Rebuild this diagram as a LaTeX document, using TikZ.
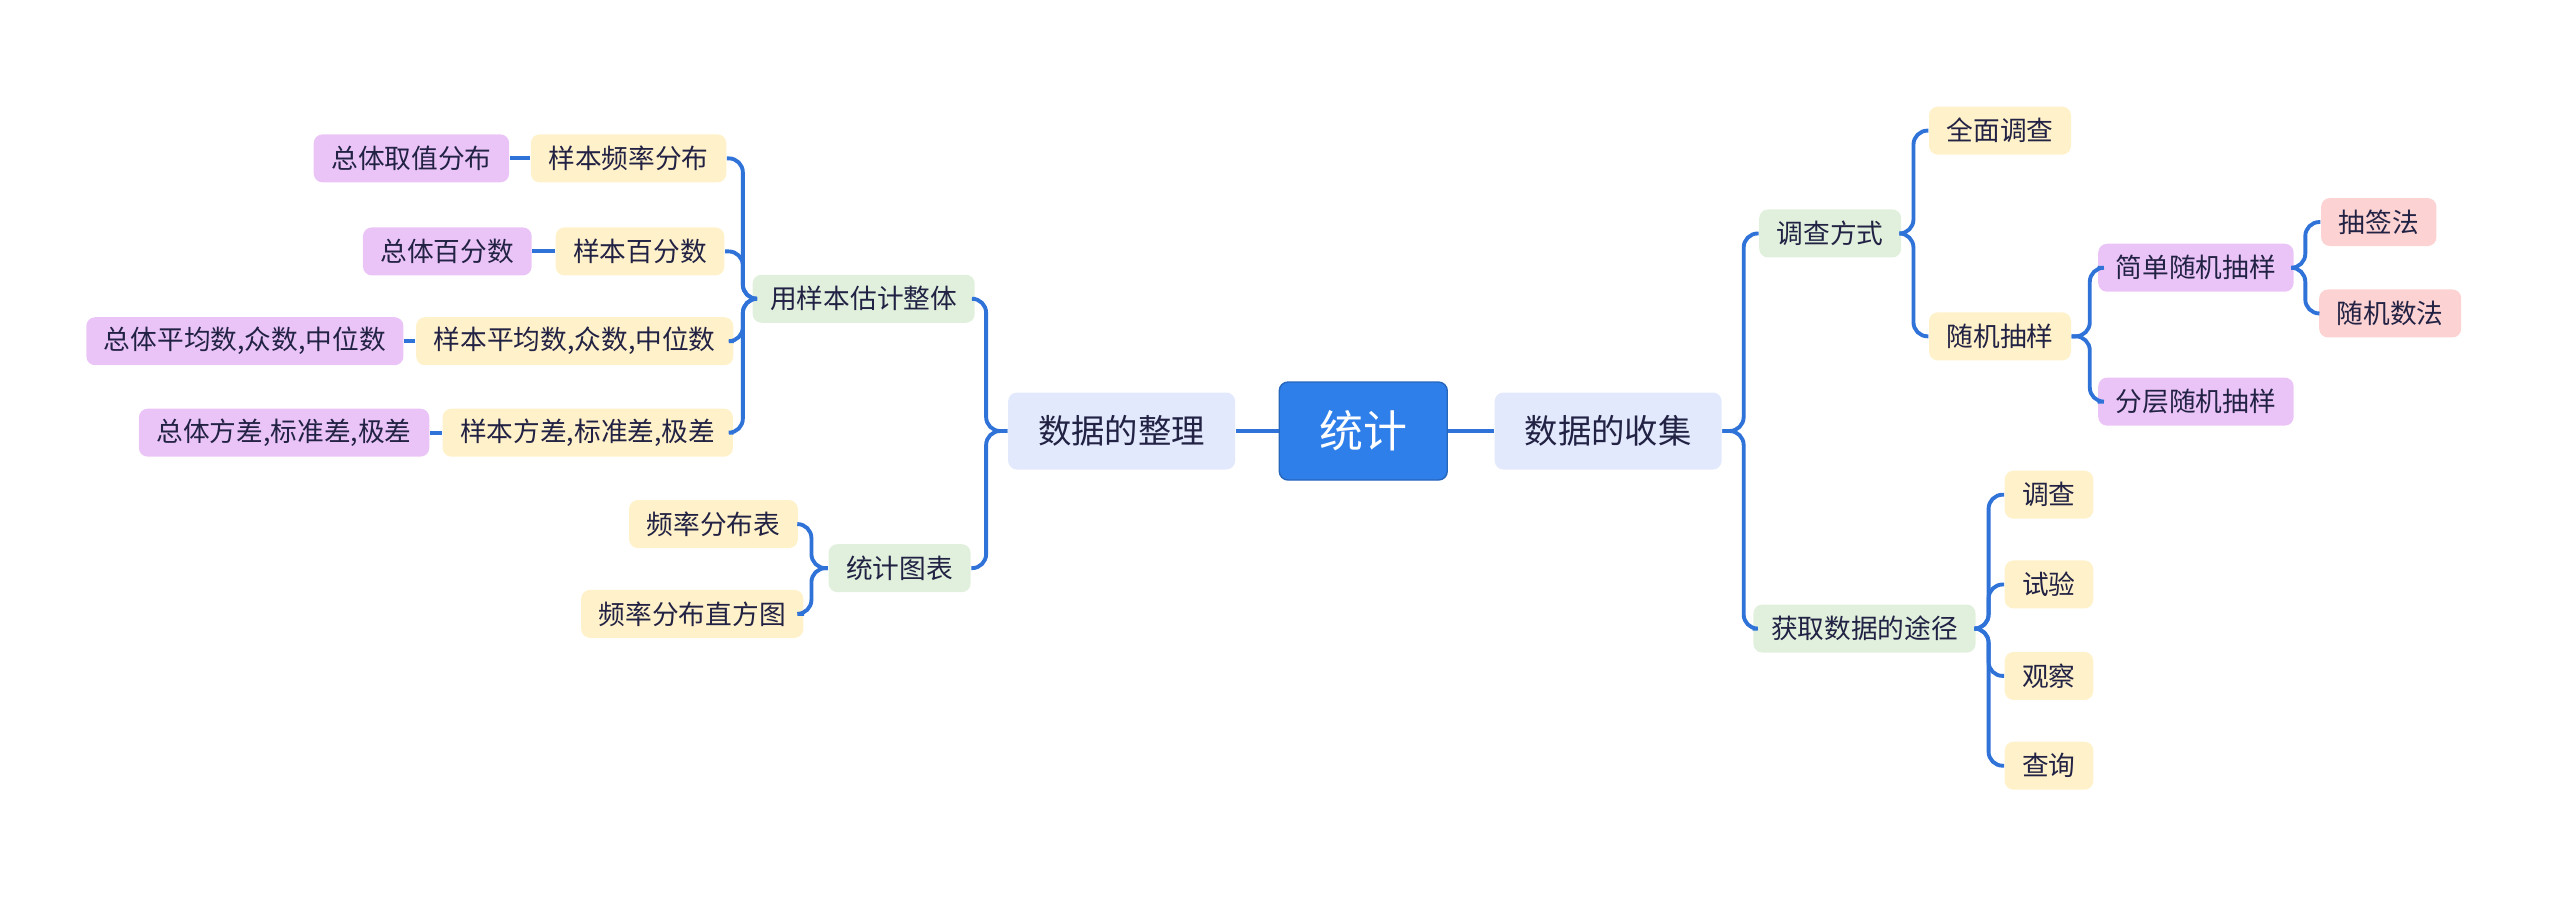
\documentclass[tikz,border=0pt]{standalone}
\usepackage{fontspec}
\setmainfont{Noto Sans CJK SC}
\usetikzlibrary{positioning}

\definecolor{rootblue}{HTML}{2F7FEA}
\definecolor{mainfill}{HTML}{E3E9FC}
\definecolor{greenfill}{HTML}{E0F0DC}
\definecolor{yellowfill}{HTML}{FFF1C9}
\definecolor{purplefill}{HTML}{EBC4F7}
\definecolor{pinkfill}{HTML}{FCD2D2}
\definecolor{linkblue}{HTML}{2F72D8}
\definecolor{textdark}{HTML}{222244}

\tikzset{
  box/.style={rounded corners=2.5pt, inner xsep=5pt, inner ysep=0pt, minimum height=0.48cm, font=\fontsize{7.6}{9}\selectfont, text=textdark},
  root/.style={box, fill=rootblue, draw=rootblue!80!black, text=white, minimum width=1.68cm, minimum height=0.98cm, font=\fontsize{12.5}{14}\selectfont},
  main/.style={box, fill=mainfill, minimum width=2.27cm, minimum height=0.77cm, font=\fontsize{9.5}{11}\selectfont},
  lvgreen/.style={box, fill=greenfill},
  lvyellow/.style={box, fill=yellowfill},
  lvpurple/.style={box, fill=purplefill},
  lvpink/.style={box, fill=pinkfill},
  link/.style={linkblue, line width=1.1pt, rounded corners=4pt}
}

\begin{document}
\begin{tikzpicture}[x=0.01633cm, y=-0.01633cm]
\useasboundingbox (0,0) rectangle (1568,550);

% centre
\node[root] (tj) at (835,264) {统计};
\node[main] (zl) at (687,264) {数据的整理};
\node[main] (sj) at (985,264) {数据的收集};

% left side
\node[lvgreen] (gj) at (529,183) {用样本估计整体};
\node[lvgreen] (tb) at (551,348) {统计图表};

\node[lvyellow] (ypl) at (385,97) {样本频率分布};
\node[lvyellow] (ybf) at (392,154) {样本百分数};
\node[lvyellow] (ypj) at (352,209) {样本平均数,众数,中位数};
\node[lvyellow] (yfc) at (360,265) {样本方差,标准差,极差};

\node[lvpurple] (zqz) at (252,97) {总体取值分布};
\node[lvpurple] (zbf) at (274,154) {总体百分数};
\node[lvpurple] (zpj) at (150,209) {总体平均数,众数,中位数};
\node[lvpurple] (zfc) at (174,265) {总体方差,标准差,极差};

\node[lvyellow] (pbb) at (437,321) {频率分布表};
\node[lvyellow] (pzf) at (424,376) {频率分布直方图};

% right side
\node[lvgreen] (dcfs) at (1121,143) {调查方式};
\node[lvgreen] (hqtj) at (1142,385) {获取数据的途径};

\node[lvyellow] (qmdc) at (1225,80) {全面调查};
\node[lvyellow] (sjcy) at (1225,206) {随机抽样};

\node[lvpurple] (jdcy) at (1345,164) {简单随机抽样};
\node[lvpurple] (fccy) at (1345,246) {分层随机抽样};

\node[lvpink] (cqf) at (1457,136) {抽签法};
\node[lvpink] (sjsf) at (1464,192) {随机数法};

\node[lvyellow] (dc) at (1255,303) {调查};
\node[lvyellow] (sy) at (1255,358) {试验};
\node[lvyellow] (gc) at (1255,414) {观察};
\node[lvyellow] (cx) at (1255,469) {查询};

% bus positions
\coordinate (bzl) at (604,0);
\coordinate (bgj) at (455,0);
\coordinate (btb) at (497,0);
\coordinate (bsj) at (1068,0);
\coordinate (bdc) at (1172,0);
\coordinate (bcy) at (1280,0);
\coordinate (bjd) at (1412,0);
\coordinate (bhq) at (1218,0);

% connectors
\draw[link] (tj) -- (zl);
\draw[link] (tj) -- (sj);

\foreach \c in {gj,tb}
  \draw[link] (zl.west) -- (zl.west -| bzl) |- (\c.east);
\foreach \c in {ypl,ybf,ypj,yfc}
  \draw[link] (gj.west) -- (gj.west -| bgj) |- (\c.east);
\draw[link] (ypl) -- (zqz);
\draw[link] (ybf) -- (zbf);
\draw[link] (ypj) -- (zpj);
\draw[link] (yfc) -- (zfc);
\foreach \c in {pbb,pzf}
  \draw[link] (tb.west) -- (tb.west -| btb) |- (\c.east);

\foreach \c in {dcfs,hqtj}
  \draw[link] (sj.east) -- (sj.east -| bsj) |- (\c.west);
\foreach \c in {qmdc,sjcy}
  \draw[link] (dcfs.east) -- (dcfs.east -| bdc) |- (\c.west);
\foreach \c in {jdcy,fccy}
  \draw[link] (sjcy.east) -- (sjcy.east -| bcy) |- (\c.west);
\foreach \c in {cqf,sjsf}
  \draw[link] (jdcy.east) -- (jdcy.east -| bjd) |- (\c.west);
\foreach \c in {dc,sy,gc,cx}
  \draw[link] (hqtj.east) -- (hqtj.east -| bhq) |- (\c.west);

\end{tikzpicture}
\end{document}
